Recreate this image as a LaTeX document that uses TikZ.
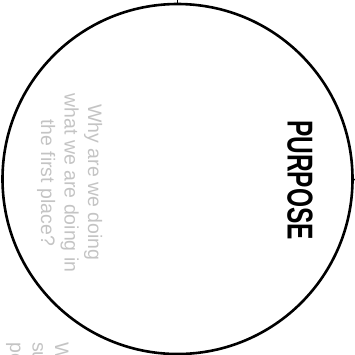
\documentclass[tikz,border=0pt]{standalone}
\usepackage{fontspec}
\setmainfont{Liberation Sans}
\definecolor{lightgreytext}{RGB}{196,196,196}
\begin{document}
\begin{tikzpicture}[x=1pt,y=-1pt,
  ring/.style={circle,draw=black,line width=2.6pt,minimum size=350pt,inner sep=0pt},
  title/.style={rotate=-90,anchor=base,inner sep=0pt,font=\bfseries\fontsize{36}{36}\selectfont},
  greyline/.style={rotate=-90,anchor=base,inner sep=0pt,text=lightgreytext,font=\fontsize{19.5}{23}\selectfont},
  fragline/.style={rotate=-90,anchor=base west,inner sep=0pt,text=lightgreytext,font=\fontsize{19.5}{23}\selectfont},
  tick/.style={line width=1.2pt}]
\useasboundingbox (0,0) rectangle (355,354);
\node[ring] (c) at (177.5,179) {};
\coordinate (topend) at (c.north |- 0,0);
\coordinate (rightend) at (355,180);
\draw[tick] (c.north) -- (topend);
\draw[tick] (c.east) -- (rightend);
\node[title] (purpose) at (287.5,180) {\scalebox{0.68}[1]{PURPOSE}};
\node[greyline] (q1) at (88,182.5) {Why are we doing};
\node[greyline] (q2) at (64.5,183) {what we are doing in};
\node[greyline] (q3) at (41,182.5) {the first place?};
\node[fragline] (f1) at (55,342) {W};
\node[fragline] (f2) at (32.5,342) {su};
\node[fragline] (f3) at (10,342) {pe};
\end{tikzpicture}
\end{document}
